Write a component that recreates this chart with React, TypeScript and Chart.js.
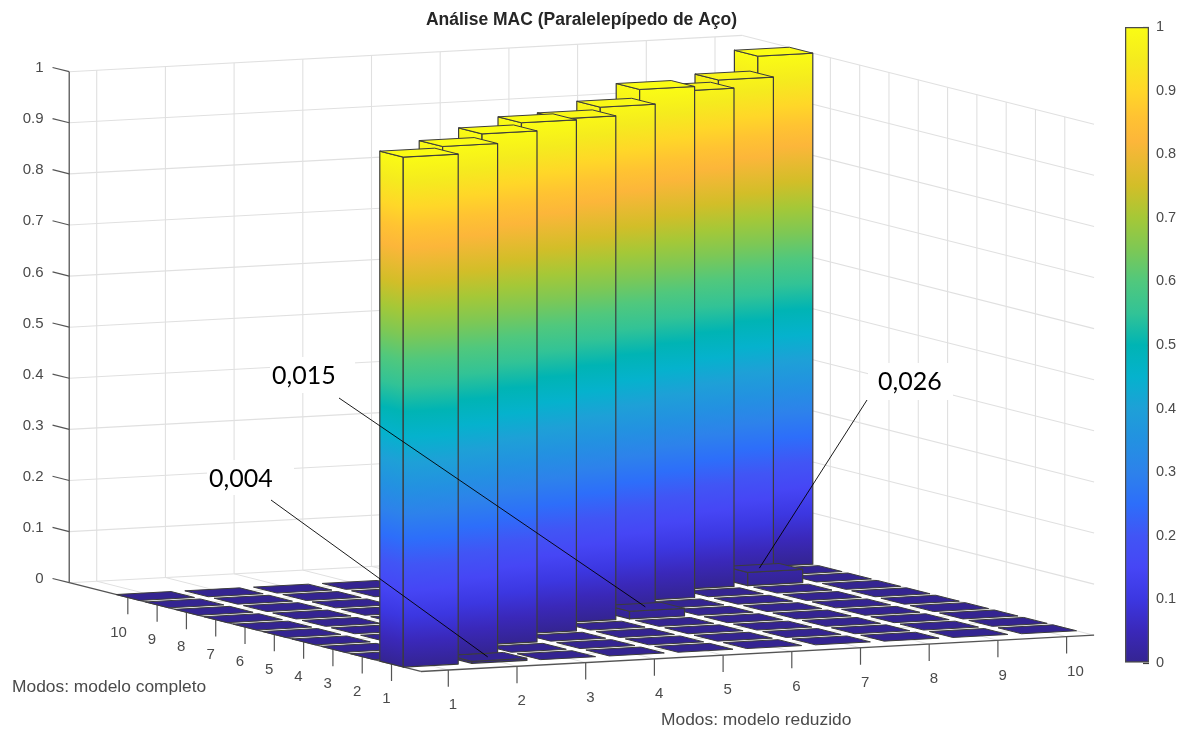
import React, { useEffect, useRef } from "react";
import { Chart, registerables } from "chart.js";

Chart.register(...registerables);

// ---------- data ----------
const modesReduced = [1, 2, 3, 4, 5, 6, 7, 8, 9, 10];
const modesFull = [1, 2, 3, 4, 5, 6, 7, 8, 9, 10];
const zTicks = [0, 0.1, 0.2, 0.3, 0.4, 0.5, 0.6, 0.7, 0.8, 0.9, 1];

// MAC rows: one list per "modelo completo" mode, one value per "modelo reduzido" mode
const macMode1 = [0.998, 0.004, 0, 0, 0, 0, 0, 0, 0, 0];
const macMode2 = [0, 0.997, 0, 0, 0, 0, 0, 0, 0, 0];
const macMode3 = [0, 0, 1, 0, 0, 0, 0, 0, 0, 0];
const macMode4 = [0, 0, 0, 1, 0, 0, 0, 0, 0, 0];
const macMode5 = [0, 0, 0, 0, 0.986, 0.015, 0, 0, 0, 0];
const macMode6 = [0, 0, 0, 0, 0, 0.987, 0, 0, 0, 0];
const macMode7 = [0, 0, 0, 0, 0, 0, 1, 0, 0, 0];
const macMode8 = [0, 0, 0, 0, 0, 0, 0, 0.975, 0.026, 0];
const macMode9 = [0, 0, 0, 0, 0, 0, 0, 0, 0.975, 0];
const macMode10 = [0, 0, 0, 0, 0, 0, 0, 0, 0, 1];
const macMatrix = [macMode1, macMode2, macMode3, macMode4, macMode5, macMode6, macMode7, macMode8, macMode9, macMode10];

const callouts = [
  { label: "0,004", x: 2, y: 1, z: 0.004, textLeft: 209, textMid: 479, from: [271, 500], box: [207, 460, 87, 35] },
  { label: "0,015", x: 6, y: 5, z: 0.015, textLeft: 272, textMid: 376, from: [339, 398], box: [270, 357, 85, 36] },
  { label: "0,026", x: 8.94, y: 8, z: 0.026, textLeft: 878, textMid: 382, from: [867, 400], box: [868, 363, 85, 37] },
];

const colorStops: [number, number[]][] = [
  [0, [52, 36, 145]],
  [0.05, [58, 40, 185]],
  [0.1, [60, 55, 225]],
  [0.15, [70, 70, 245]],
  [0.2, [65, 85, 245]],
  [0.25, [45, 110, 250]],
  [0.3, [45, 130, 235]],
  [0.35, [35, 145, 225]],
  [0.4, [30, 160, 215]],
  [0.45, [5, 178, 205]],
  [0.5, [0, 180, 180]],
  [0.55, [50, 195, 150]],
  [0.6, [80, 200, 125]],
  [0.65, [125, 200, 85]],
  [0.7, [165, 200, 55]],
  [0.75, [210, 190, 40]],
  [0.82, [252, 182, 58]],
  [0.86, [255, 195, 50]],
  [0.9, [255, 215, 40]],
  [0.95, [245, 235, 30]],
  [1, [250, 252, 20]],
];

// ---------- view: parallel projection of (x, y, z) onto the page ----------
const ORIGIN = [448.3, 670];
const X_STEP = [68.7, -3.7];
const Y_STEP = [-29.3, -7.4];
const Z_SPAN = 511;
const HALF = 0.4;
const X_MIN = 0.6;
const X_MAX = 10.4;
const Y_MIN = 0;
const Y_MAX = 12;

const project = (x: number, y: number, z: number) => ({
  x: ORIGIN[0] + (x - 1) * X_STEP[0] + y * Y_STEP[0],
  y: ORIGIN[1] + (x - 1) * X_STEP[1] + y * Y_STEP[1] - z * Z_SPAN,
});

const colorAt = (v: number) => {
  for (let i = 1; i < colorStops.length; i++) {
    const [b, cb] = colorStops[i];
    const [a, ca] = colorStops[i - 1];
    if (v <= b) {
      const t = (v - a) / (b - a);
      const c = ca.map((k, j) => Math.round(k + (cb[j] - k) * t));
      return `rgb(${c[0]},${c[1]},${c[2]})`;
    }
  }
  return "rgb(250,252,20)";
};

// Gradient of one vertical face: colour follows height, iso-lines follow the face's base edge.
const faceGradient = (chart: any, a: any, b: any, top: number) => {
  const sx = chart.scales.x;
  const sy = chart.scales.y;
  if (!chart.chartArea || !sx || !sy) return colorAt(top / 2);
  const ax = sx.getPixelForValue(a.x);
  const ay = sy.getPixelForValue(a.y);
  const ex = sx.getPixelForValue(b.x) - ax;
  const ey = sy.getPixelForValue(b.y) - ay;
  const len = Math.hypot(ex, ey);
  if (!Number.isFinite(ax) || !Number.isFinite(ay) || !(len > 0)) return colorAt(top / 2);
  let nx = ey / len;
  let ny = -ex / len;
  if (ny > 0) {
    nx = -nx;
    ny = -ny;
  }
  const d = top * Z_SPAN * -ny;
  const g = chart.ctx.createLinearGradient(ax, ay, ax + nx * d, ay + ny * d);
  colorStops.forEach(([v]) => {
    if (v < top) g.addColorStop(v / top, colorAt(v));
  });
  g.addColorStop(1, colorAt(top));
  return g;
};

const poly = (points: any[], fillColor: any, border: string, width: number) => ({
  data: [...points, points[0]],
  showLine: true,
  fill: "shape",
  backgroundColor: fillColor,
  borderColor: border,
  borderWidth: width,
  pointRadius: 0,
  tension: 0,
  clip: false,
  borderJoinStyle: "round",
});

const line = (a: any, b: any, color: string, width: number) => ({
  data: [a, b],
  showLine: true,
  fill: false,
  borderColor: color,
  borderWidth: width,
  pointRadius: 0,
  tension: 0,
  clip: false,
});

const GRID = "rgb(224,224,224)";
const AXIS = "rgb(85,85,85)";
const EDGE = "rgb(60,60,60)";

const buildDatasets = () => {
  const list: any[] = [];
  // back walls and floor grid
  zTicks.forEach((z) => {
    list.push(line(project(X_MIN, Y_MAX, z), project(X_MAX, Y_MAX, z), GRID, 1.1));
    list.push(line(project(X_MAX, Y_MAX, z), project(X_MAX, Y_MIN, z), GRID, 1.1));
  });
  modesReduced.forEach((x) => {
    list.push(line(project(x, Y_MAX, 0), project(x, Y_MAX, 1), GRID, 1.1));
    list.push(line(project(x, Y_MAX, 0), project(x, Y_MIN, 0), GRID, 1));
  });
  modesFull.forEach((y) => {
    list.push(line(project(X_MAX, y, 0), project(X_MAX, y, 1), GRID, 1.1));
    list.push(line(project(X_MAX, y, 0), project(X_MIN, y, 0), GRID, 1));
  });
  // axes and tick marks
  list.push(line(project(X_MIN, Y_MAX, 0), project(X_MIN, Y_MAX, 1), AXIS, 1.3));
  list.push(line(project(X_MIN, Y_MAX, 0), project(X_MIN, Y_MIN, 0), AXIS, 1.3));
  list.push(line(project(X_MIN, Y_MIN, 0), project(X_MAX, Y_MIN, 0), AXIS, 1.3));
  zTicks.forEach((z) => {
    list.push(line(project(X_MIN, Y_MAX, z), project(X_MIN, Y_MAX + 0.57, z), AXIS, 1.2));
  });
  modesReduced.forEach((x) => {
    list.push(line(project(x, Y_MIN, 0), project(x, Y_MIN, -0.033), AXIS, 1.2));
  });
  modesFull.forEach((y) => {
    list.push(line(project(X_MIN, y, 0), project(X_MIN, y, -0.033), AXIS, 1.2));
  });
  // bars, far to near
  for (let yi = modesFull.length - 1; yi >= 0; yi--) {
    for (let xi = modesReduced.length - 1; xi >= 0; xi--) {
      const x = modesReduced[xi];
      const y = modesFull[yi];
      const z = macMatrix[yi][xi];
      const x0 = x - HALF;
      const x1 = x + HALF;
      const y0 = y - HALF;
      const y1 = y + HALF;
      if (z > 0) {
        const a = project(x0, y1, 0);
        const b = project(x0, y0, 0);
        const c = project(x1, y0, 0);
        list.push(
          poly([a, b, project(x0, y0, z), project(x0, y1, z)],
            (ctx: any) => faceGradient(ctx.chart, a, b, z), EDGE, 1.2)
        );
        list.push(
          poly([b, c, project(x1, y0, z), project(x0, y0, z)],
            (ctx: any) => faceGradient(ctx.chart, b, c, z), EDGE, 1.2)
        );
      }
      list.push(
        poly([project(x0, y0, z), project(x1, y0, z), project(x1, y1, z), project(x0, y1, z)],
          colorAt(z), EDGE, 1)
      );
    }
  }
  return list;
};

const labelsPlugin = {
  id: "labels3d",
  afterDatasetsDraw(chart: any) {
    const { ctx, scales } = chart;
    const px = (p: any) => ({ x: scales.x.getPixelForValue(p.x), y: scales.y.getPixelForValue(p.y) });
    ctx.save();
    ctx.fillStyle = "#4a4a4a";
    ctx.font = "15px 'Liberation Sans'";
    ctx.textBaseline = "middle";
    ctx.textAlign = "right";
    zTicks.forEach((z) => {
      const p = px(project(X_MIN, Y_MAX + 0.57, z));
      ctx.fillText(String(z), p.x - 9, p.y + 0.5);
    });
    modesFull.forEach((y) => {
      const p = px(project(X_MIN, y, 0));
      ctx.fillText(String(y), p.x - 1, p.y + 35);
    });
    ctx.textAlign = "left";
    modesReduced.forEach((x) => {
      const p = px(project(x, Y_MIN, 0));
      ctx.fillText(String(x), p.x + 0.5, p.y + 35);
    });
    ctx.font = "17.4px 'Liberation Sans'";
    ctx.fillText("Modos: modelo completo", 12, 687);
    ctx.fillText("Modos: modelo reduzido", 661, 720);
    ctx.fillStyle = "#262626";
    ctx.font = "bold 17.5px 'Liberation Sans'";
    ctx.textAlign = "center";
    ctx.fillText("Análise MAC (Paralelepípedo de Aço)", 581.5, 20);
    callouts.forEach((c) => {
      ctx.fillStyle = "#ffffff";
      ctx.fillRect(c.box[0], c.box[1], c.box[2], c.box[3]);
      ctx.fillStyle = "#000000";
      ctx.font = "25px Lato";
      ctx.textAlign = "left";
      ctx.fillText(c.label, c.textLeft, c.textMid);
      const end = px(project(c.x, c.y, c.z));
      ctx.strokeStyle = "#000000";
      ctx.lineWidth = 0.9;
      ctx.beginPath();
      ctx.moveTo(c.from[0], c.from[1]);
      ctx.lineTo(end.x, end.y);
      ctx.stroke();
    });
    ctx.restore();
  },
};

export default function App() {
  const mainRef = useRef<HTMLCanvasElement | null>(null);
  const barRef = useRef<HTMLCanvasElement | null>(null);

  useEffect(() => {
    const main = new Chart(mainRef.current as any, {
      type: "scatter",
      data: { datasets: buildDatasets().reverse() },
      plugins: [labelsPlugin],
      options: {
        animation: false,
        responsive: false,
        events: [],
        layout: { padding: 0 },
        plugins: { legend: { display: false }, tooltip: { enabled: false } },
        scales: {
          x: { type: "linear", min: 0, max: 1185, display: false },
          y: { type: "linear", min: 0, max: 736, reverse: true, display: false },
        },
      },
    } as any);

    const bar = new Chart(barRef.current as any, {
      type: "bar",
      data: {
        labels: ["MAC"],
        datasets: [
          {
            data: [[0, 1]],
            barPercentage: 1,
            categoryPercentage: 1,
            borderColor: "rgb(75,75,75)",
            borderWidth: 1.6,
            borderSkipped: false,
            backgroundColor: (c: any) => {
              const s = c.chart.scales.y;
              const p0 = s ? s.getPixelForValue(0) : NaN;
              const p1 = s ? s.getPixelForValue(1) : NaN;
              if (!c.chart.chartArea || !Number.isFinite(p0) || !Number.isFinite(p1)) return colorAt(0.5);
              const g = c.chart.ctx.createLinearGradient(0, p0, 0, p1);
              colorStops.forEach(([v, col]) => g.addColorStop(v, `rgb(${col[0]},${col[1]},${col[2]})`));
              return g;
            },
          },
        ],
      },
      options: {
        animation: false,
        responsive: false,
        events: [],
        layout: { padding: { top: 27, bottom: 73, left: 15, right: 0 } },
        plugins: { legend: { display: false }, tooltip: { enabled: false } },
        scales: {
          x: { display: false },
          y: {
            position: "right",
            min: 0,
            max: 1,
            afterFit: (s: any) => {
              s.width = 36;
            },
            border: { display: false },
            grid: { drawOnChartArea: false, tickLength: -6, tickColor: "rgb(60,60,60)", tickWidth: 1.2 },
            ticks: {
              stepSize: 0.1,
              padding: 13,
              color: "#4a4a4a",
              font: { family: "'Liberation Sans'", size: 14.5 },
              callback: (v: any) => String(Math.round(v * 10) / 10),
            },
          },
        },
      },
    } as any);

    return () => {
      main.destroy();
      bar.destroy();
    };
  }, []);

  return (
    <div style={{ position: "absolute", left: 0, top: 0, width: 1185, height: 736, background: "#fff", overflow: "hidden" }}>
      <canvas ref={mainRef} width={1185} height={736} style={{ position: "absolute", left: 0, top: 0, display: "block" }} />
      <canvas ref={barRef} width={75} height={736} style={{ position: "absolute", left: 1110, top: 0, display: "block" }} />
    </div>
  );
}
